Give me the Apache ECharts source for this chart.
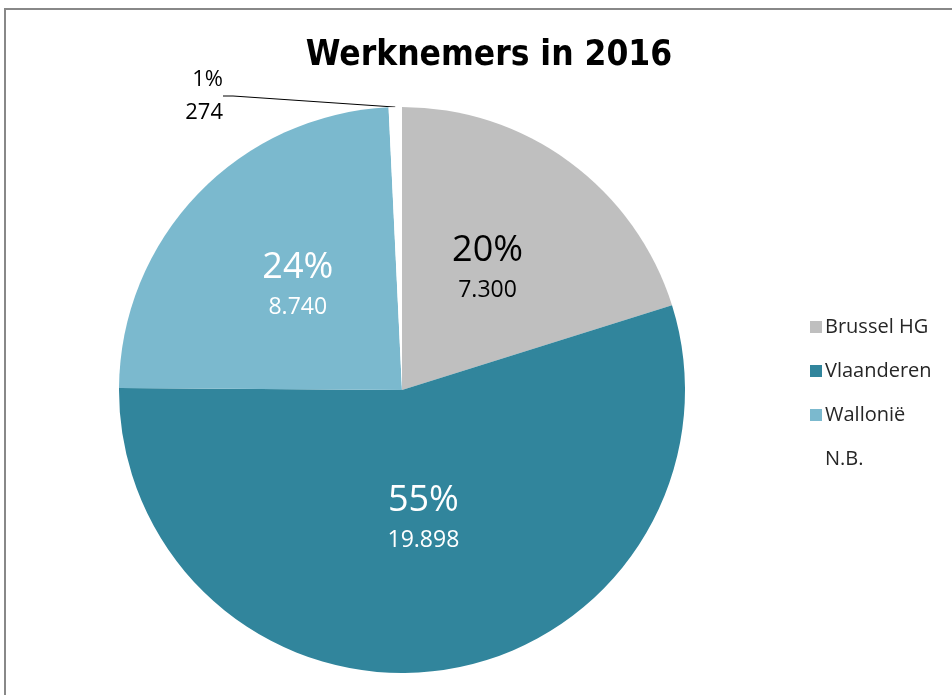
<!DOCTYPE html>
<html>
<head>
<meta charset="utf-8">
<script src="https://cdn.jsdelivr.net/npm/echarts@6/dist/echarts.min.js"></script>
<style>
  html, body { margin: 0; padding: 0; background: #fff; }
  #chart { width: 952px; height: 695px; }
</style>
</head>
<body>
<div id="chart"></div>
<script>
const regions = ['Brussel HG', 'Vlaanderen', 'Wallonië', 'N.B.']
const workers = [7300, 19898, 8740, 274]
const colors = ['#BFBFBF', '#31859C', '#7BB9CE', '#FFFFFF']
const labelColors = ['#000', '#fff', '#fff', '#000']
// small nudges so the inside labels sit like in the original
const labelShift = [-8, -17, -7, 0]

const fmt = (n) => String(n).replace(/\B(?=(\d{3})+(?!\d))/g, '.')

const chart = echarts.init(document.getElementById('chart'))

const option = {
    backgroundColor: '#fff',
    animation: false,
    graphic: [{
        type: 'rect',
        shape: {x: 5, y: 9, width: 1200, height: 1000},
        style: {fill: 'none', stroke: '#888', lineWidth: 2}
    }],
    title: {
        text: 'Werknemers in 2016',
        left: 484,
        top: 33,
        textAlign: 'center',
        textStyle: {
            fontFamily: '"Liberation Sans Narrow", "DejaVu Sans Condensed", sans-serif',
            fontWeight: 'bold',
            fontSize: 35,
            color: '#000'
        }
    },
    legend: {
        orient: 'vertical',
        left: 805,
        top: 310,
        itemWidth: 12,
        itemHeight: 12,
        itemGap: 20,
        icon: 'rect',
        textStyle: {
            fontFamily: '"Open Sans", sans-serif',
            fontSize: 20,
            lineHeight: 24,
            color: '#262626',
            padding: [0, 0, 0, -2]
        },
        data: regions
    },
    series: [{
        type: 'pie',
        center: [402, 390],
        radius: 283,
        startAngle: 90,
        clockwise: true,
        label: {
            position: 'inside',
            fontFamily: '"Open Sans", sans-serif',
            formatter: (p) => `{p|${Math.round(p.percent)}%}\n{v|${fmt(p.value)}}`,
            rich: {
                p: {fontSize: 36, lineHeight: 50, fontFamily: '"Open Sans", sans-serif'},
                v: {fontSize: 23, lineHeight: 30, fontFamily: '"Open Sans", sans-serif'}
            }
        },
        labelLayout: (params) => {
            if (params.dataIndex === 3) {
                return {x: 223, y: 96, align: 'right', verticalAlign: 'middle'}
            }
            return {dy: labelShift[params.dataIndex]}
        },
        data: regions.map((name, i) => {
            const item = {
                name: name,
                value: workers[i],
                itemStyle: {color: colors[i]},
                label: {color: labelColors[i]}
            }
            if (i === 3) {
                item.label = {
                    position: 'outside',
                    color: '#000',
                    fontSize: 22,
                    formatter: (p) => `{s|${Math.round(p.percent)}%}\n{s|${fmt(p.value)}}`,
                    rich: {
                        s: {fontSize: 22, lineHeight: 33, color: '#000', fontFamily: '"Open Sans", sans-serif'}
                    }
                }
                item.labelLine = {show: true, length: 10, length2: 10, lineStyle: {color: '#000', width: 1}}
                item.emphasis = {disabled: true}
            }
            return item
        })
    }]
}

chart.setOption(option)
</script>
</body>
</html>
